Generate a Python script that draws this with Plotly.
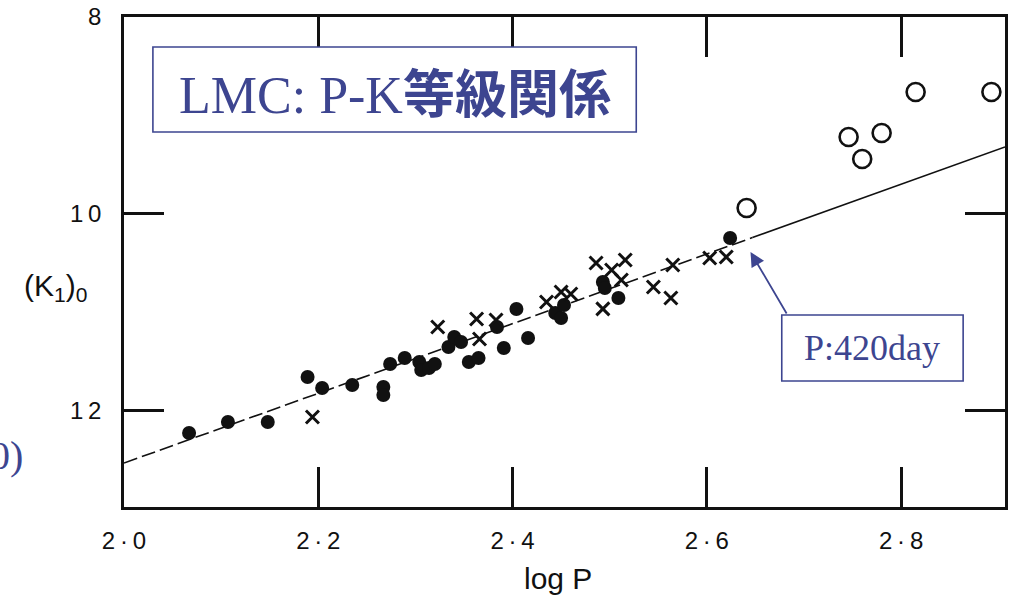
import plotly.graph_objects as go

# ---------------- data ----------------
dot_logp = [2.067, 2.107, 2.148, 2.189, 2.204, 2.235, 2.267, 2.267, 2.274, 2.289,
            2.304, 2.306, 2.314, 2.320, 2.334, 2.340, 2.347, 2.355, 2.365, 2.391,
            2.384, 2.404, 2.416, 2.444, 2.450, 2.453, 2.493, 2.495, 2.509, 2.624]
dot_k = [12.228, 12.116, 12.116, 11.659, 11.770, 11.740, 11.760, 11.841, 11.526, 11.465,
         11.506, 11.587, 11.567, 11.526, 11.354, 11.252, 11.303, 11.506, 11.465, 11.364,
         11.150, 10.967, 11.262, 11.008, 11.059, 10.927, 10.693, 10.754, 10.856, 10.246]

cross_logp = [2.194, 2.323, 2.363, 2.366, 2.383, 2.435, 2.450, 2.460, 2.486, 2.502,
              2.516, 2.512, 2.493, 2.545, 2.563, 2.565, 2.603, 2.620]
cross_k = [12.065, 11.150, 11.069, 11.272, 11.079, 10.896, 10.795, 10.815, 10.500, 10.571,
           10.470, 10.673, 10.967, 10.744, 10.856, 10.520, 10.449, 10.439]

open_logp = [2.641, 2.746, 2.760, 2.780, 2.815, 2.893]
open_k = [9.941, 9.220, 9.443, 9.179, 8.762, 8.762]

fit_dash_logp = [2.0, 2.647]
fit_dash_k = [12.533, 10.242]
fit_solid_logp = [2.647, 2.907]
fit_solid_k = [10.242, 9.321]

x_tickvals = [2.0, 2.2, 2.4, 2.6, 2.8]
x_ticktext = ["2\u2009·\u20090", "2\u2009·\u20092", "2\u2009·\u20094", "2\u2009·\u20096", "2\u2009·\u20098"]
y_tickvals = [8, 10, 12]
y_ticktext = ["8", "1\u20090", "1\u20092"]

title_text = "LMC: P-K"
title_cjk = "等級関係"
note_text = "P:420day"
arrow_tip = (2.645, 10.388)

# ---------------- figure ----------------
INK = "#111111"
BLUE = "#3d4590"

fig = go.Figure()
fig.add_trace(go.Scatter(x=fit_dash_logp, y=fit_dash_k, mode="lines",
                         line=dict(color=INK, width=1.6, dash="14px,5px"),
                         hoverinfo="skip", showlegend=False))
fig.add_trace(go.Scatter(x=fit_solid_logp, y=fit_solid_k, mode="lines",
                         line=dict(color=INK, width=1.6),
                         hoverinfo="skip", showlegend=False))
fig.add_trace(go.Scatter(x=dot_logp, y=dot_k, mode="markers",
                         marker=dict(symbol="circle", size=14, color=INK, line=dict(width=0)),
                         showlegend=False))
fig.add_trace(go.Scatter(x=cross_logp, y=cross_k, mode="markers",
                         marker=dict(symbol="x-thin-open", size=13, color=INK,
                                     line=dict(width=3, color=INK)),
                         showlegend=False))
fig.add_trace(go.Scatter(x=open_logp, y=open_k, mode="markers",
                         marker=dict(symbol="circle-open", size=18, color=INK,
                                     line=dict(width=2.6, color=INK)),
                         showlegend=False))

axis_common = dict(showline=True, linecolor=INK, linewidth=2.5, mirror="ticks",
                   ticks="inside", ticklen=40, tickwidth=2.5, tickcolor=INK,
                   showgrid=False, zeroline=False,
                   tickfont=dict(family="Liberation Sans, Arial, sans-serif", size=24, color=INK))

fig.update_xaxes(range=[2.0, 2.907], tickvals=x_tickvals, ticktext=x_ticktext,
                 ticklabelstandoff=10, **axis_common)
fig.update_yaxes(range=[12.98, 8.0], tickvals=y_tickvals, ticktext=y_ticktext,
                 ticklabelstandoff=15, **axis_common)

L, R, T, B = 124, 1, 17, 89
W, H = 1009, 596
PW, PH = W - L - R, H - T - B


def px(x):
    return (x - L) / PW


def py(y):
    return (H - B - y) / PH


shapes = [
    dict(type="rect", xref="paper", yref="paper", layer="above",
         x0=px(153), x1=px(638), y0=py(132), y1=py(47),
         line=dict(color=BLUE, width=1.6), fillcolor="white"),
    dict(type="rect", xref="paper", yref="paper", layer="above",
         x0=px(784), x1=px(966), y0=py(381), y1=py(315),
         line=dict(color=BLUE, width=1.6), fillcolor="white"),
]

annotations = [
    dict(xref="paper", yref="paper", x=px(395.5), y=py(90), xanchor="center", yanchor="middle",
         showarrow=False,
         text=title_text + "<span style='font-family:\"Noto Sans CJK JP\"'><b>" + title_cjk + "</b></span>",
         font=dict(family="Liberation Serif, Times New Roman, serif", size=52, color=BLUE)),
    dict(xref="paper", yref="paper", x=px(875), y=py(348), xanchor="center", yanchor="middle",
         showarrow=False, text=note_text,
         font=dict(family="Liberation Serif, Times New Roman, serif", size=36, color=BLUE)),
    dict(x=arrow_tip[0], y=arrow_tip[1], xref="x", yref="y", text="",
         showarrow=True, ax=37, ay=63, arrowhead=2, arrowsize=1.6, arrowwidth=1.8,
         arrowcolor=BLUE),
    dict(xref="paper", yref="paper", x=px(559), y=py(578), xanchor="center", yanchor="middle",
         showarrow=False, text="log P",
         font=dict(family="Liberation Sans, Arial, sans-serif", size=30, color=INK)),
    dict(xref="paper", yref="paper", x=px(55), y=py(287), xanchor="center", yanchor="middle",
         showarrow=False, text="(K<sub>1</sub>)<sub>0</sub>",
         font=dict(family="Liberation Sans, Arial, sans-serif", size=30, color=INK)),
    dict(xref="paper", yref="paper", x=px(25), y=py(455), xanchor="right", yanchor="middle",
         showarrow=False, text="0)",
         font=dict(family="Liberation Serif, Times New Roman, serif", size=40, color=BLUE)),
]

fig.update_layout(width=W, height=H, margin=dict(l=L, r=R, t=T, b=B),
                  paper_bgcolor="white", plot_bgcolor="white",
                  shapes=shapes, annotations=annotations, showlegend=False)

fig.write_html("out.html")
